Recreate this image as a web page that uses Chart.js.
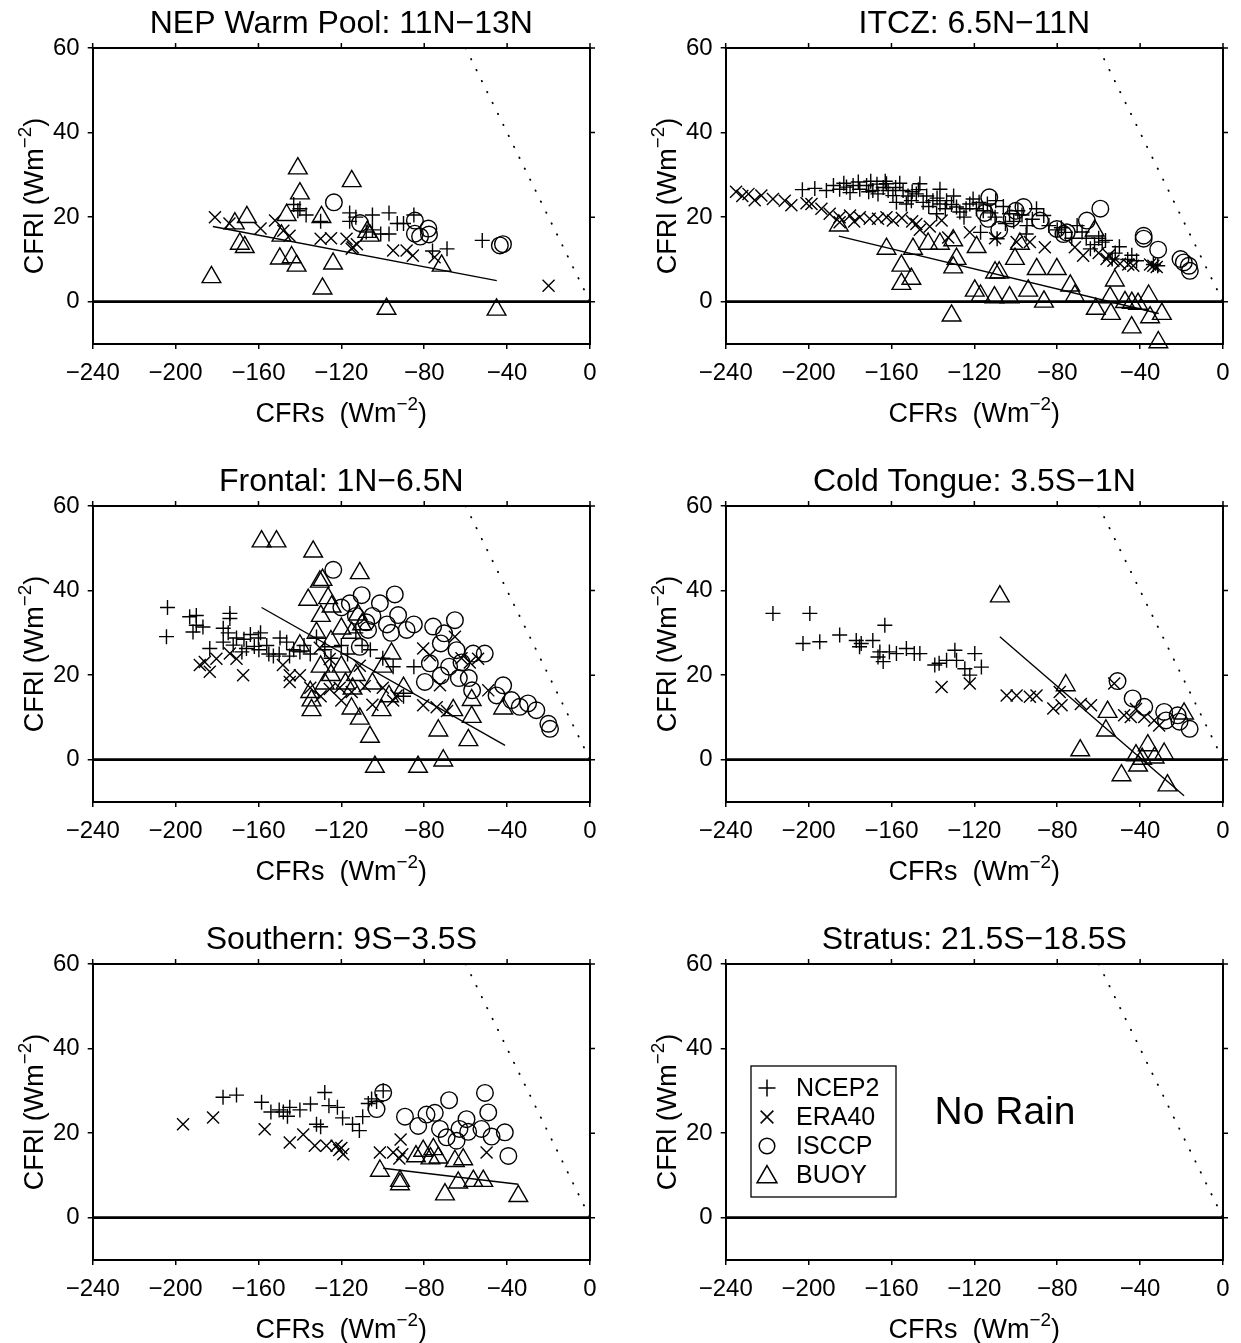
<!DOCTYPE html>
<html>
<head>
<meta charset="utf-8">
<script src="https://cdn.jsdelivr.net/npm/chart.js@4.4.1/dist/chart.umd.min.js"></script>
<style>
  html, body { margin: 0; padding: 0; background: #fff; overflow: hidden; }
  #wrap { position: relative; width: 1241px; height: 1343px; }
  canvas { position: absolute; }
</style>
</head>
<body>
<div id="wrap">
  <canvas id="p1" width="608" height="458" style="left:0;top:0"></canvas>
  <canvas id="p2" width="608" height="458" style="left:633px;top:0"></canvas>
  <canvas id="p3" width="608" height="458" style="left:0;top:458px"></canvas>
  <canvas id="p4" width="608" height="458" style="left:633px;top:458px"></canvas>
  <canvas id="p5" width="608" height="458" style="left:0;top:916px"></canvas>
  <canvas id="p6" width="608" height="458" style="left:633px;top:916px"></canvas>
</div>
<script>
// axis ticks and names
var xTicks = [-240, -200, -160, -120, -80, -40, 0];
var yTicks = [0, 20, 40, 60];
var seriesNames = ['NCEP2', 'ERA40', 'ISCCP', 'BUOY'];
var panelTitles = ['NEP Warm Pool: 11N\u221213N', 'ITCZ: 6.5N\u221211N', 'Frontal: 1N\u22126.5N',
                   'Cold Tongue: 3.5S\u22121N', 'Southern: 9S\u22123.5S', 'Stratus: 21.5S\u221218.5S'];

// reference lines
var netZeroLine = [[-60, 60], [0, 0]];
var zeroLine = [[-240, 0], [0, 0]];

// NEP warm pool
var nepNcep2 = [[-143,23],[-140,22],[-137,20.5],[-141,21.5],[-130,19],[-116,21],[-116,19],[-113,20],[-105,20.5],[-97,21],
  [-90,18.5],[-85,20.5],[-105,17],[-101,16],[-97,16],[-93,18.5],[-76,12],[-69,12.5],[-52,14.5],[-108,16.5]];
var nepEra40 = [[-181,20],[-174,18.5],[-159,17.3],[-152,19.2],[-148,16.8],[-145,15.6],[-130,14.9],[-125,15],[-117.5,14.9],
  [-114.5,12.9],[-112.5,13.6],[-115,12.5],[-95,12.1],[-88.5,12.1],[-85.5,10.9],[-75,10.5],[-20,3.8]];
var nepIsccp = [[-123.6,23.5],[-111,18.6],[-84.5,19.2],[-78,17.3],[-84.5,16.1],[-82,15.4],[-77.7,15.9],[-43.5,13.3],[-42,13.6]];
var nepBuoy = [[-141,31.5],[-115,28.5],[-140,25.6],[-165.6,20],[-171.4,18.5],[-129.6,20],[-146.4,20.5],[-148.9,15.6],
  [-169,13.7],[-166.6,12.9],[-149.7,10.2],[-144,10.5],[-141.6,8.5],[-124,9],[-182.7,5.8],[-129.1,3.1],[-106.2,15.6],
  [-107.5,16.5],[-71.6,8.5],[-98.2,-1.7],[-45.1,-1.9]];
var nepFit = [[-182,17.8],[-45,5]];

// ITCZ
var itczNcep2 = [[-203,26.5],[-197,26.8],[-191.4,26.3],[-185,26.6],[-181.7,27.1],[-180,25.8],[-178.5,27.5],[-175.3,26.6],
  [-172,27.5],[-169,26.3],[-166.5,25.5],[-162.4,27.9],[-161.6,26.3],[-159.3,25.1],[-157.6,23.5],[-154.4,26.3],[-152.8,23.1],
  [-150.4,23.9],[-146.3,27.9],[-148,25.5],[-144.7,23.5],[-140,23.9],[-136.6,26.6],[-136.6,23.1],[-133.4,23.9],[-138.2,20.8],
  [-128.6,22.4],[-127,21.2],[-122.2,23.1],[-120.6,24.3],[-115.7,21.5],[-117.7,23.5],[-113.7,23.1],[-109.7,23.9],[-103,20.8],
  [-99,21.5],[-117,16.4],[-109,14.9],[-94.6,18],[-86.5,20.4],[-76,16.4],[-70.4,18],[-64,12.5],[-58.3,14.1],[-56.7,14.5],
  [-53.5,10.1],[-52,11.5],[-41.7,9.7],[-33.6,8.8],[-31.5,8.5],[-170,28.5],[-164,27],[-156,28],[-150,26],[-142,22.5],
  [-130,25],[-125,20],[-110,20],[-105,18.5],[-95,16],[-90,22],[-80,17],[-73,15],[-66,15],[-62,13.5],[-46,10],
  [-188,27.5],[-183,28],[-176,28.3],[-171,26],[-167,27.8],[-163,28.5],[-158,27],[-152,25],[-147,26.5],[-143,25],
  [-138,24.5],[-134,22],[-131,23],[-124,22],[-119,22],[-112,21],[-106,22.5],[-101,19],[-97,20.5],[-92,19.5],[-84,18],
  [-78,17.5],[-68,16.5],[-60,15],[-50,13],[-44,11]];
var itczEra40 = [[-235,26],[-232,25],[-229,25.5],[-226,24],[-222.8,25.1],[-217.2,24.3],[-211.5,23.9],[-208.3,22.8],[-201,23.3],
  [-198.6,23.1],[-193.8,22],[-189.8,20.8],[-185,20],[-185,18.8],[-180,20.4],[-175.3,20],[-170.5,19.6],[-166.5,19.6],
  [-162.4,20],[-159.3,19.2],[-148,18.4],[-146.3,17],[-141.5,17.8],[-135.8,19.2],[-132.6,15.2],[-122.2,16.4],[-99.6,14.1],
  [-93.2,14.1],[-86,12.9],[-71.5,12.9],[-67.5,10.9],[-56.2,10.1],[-52.9,9.7],[-49.7,9],[-45.7,8.8],[-43.3,8.5],[-35.2,8.8],
  [-33.6,8.5],[-32,8.2],[-155,19.8],[-150,19],[-178,19],[-110,15],[-60,11.5],[-55,11]];
var itczIsccp = [[-112.8,24.7],[-113.3,19.6],[-96.3,22.4],[-88.3,19.2],[-80.2,17.2],[-75.4,16.4],[-65.7,19.2],[-59.2,22],
  [-38.3,15.6],[-38.3,14.9],[-31.3,12.3],[-20.5,10.1],[-18.9,9.3],[-16.5,8.5],[-16,7.3],[-102,19.7],[-100,21.5],[-115,21],
  [-108,17],[-77,16]];
var itczBuoy = [[-185.4,18],[-162.4,12.5],[-155.2,8.5],[-150.4,5.4],[-155.2,4.2],[-149.6,12.5],[-142.3,13.7],[-136.6,13.7],
  [-130.2,14.5],[-128.6,10.1],[-130.2,8.1],[-118.9,12.9],[-119.8,2.6],[-131,-3.3],[-100.4,10.1],[-98,13.7],[-89.9,7.7],
  [-80.2,7.7],[-73.7,3.8],[-71.5,1.4],[-110.3,1],[-103,1],[-94,2.6],[-86.4,0],[-61.9,16.8],[-52.2,5],[-54.5,1],[-61.4,-1.7],
  [-54.1,-2.9],[-47.3,-0.1],[-44,-0.3],[-41,-0.5],[-35.9,1.4],[-35.2,-3.7],[-29.5,-2.9],[-44.1,-6.1],[-31.2,-9.6],
  [-110,6.9],[-108,6.9],[-117,1.4]];
var itczFit = [[-185.4,15.5],[-31,-2.8]];

// Frontal
var frontNcep2 = [[-203.9,36],[-204.4,29.1],[-193.2,33.8],[-190,34.1],[-190,31.8],[-186.8,31.4],[-191.6,30.2],[-173.8,34.6],
  [-173.8,33.4],[-177,31.1],[-174.6,30],[-170.6,28.8],[-167,28.5],[-163.9,29.6],[-160,28.8],[-159,30],[-183.5,26.3],
  [-177,27.8],[-172.2,27.1],[-165.8,26.3],[-162,26.8],[-159.8,26],[-156,27],[-152.8,24.5],[-149.6,28.8],[-146.4,27.8],
  [-143,26],[-140,25.5],[-138,27],[-135,25],[-132,29],[-128,26],[-125,24],[-120,27],[-117,25],[-113,30],[-110,27],
  [-106,26],[-100,24],[-95,22],[-90,15],[-85,22],[-168,25.5],[-155,25],[-150,25],[-145,24.5]];
var frontEra40 = [[-188.3,22.4],[-185.9,23.1],[-183.5,20.8],[-180.3,23.9],[-173.8,25.1],[-170.6,23.9],[-167.4,20],
  [-144.9,18.4],[-144.9,20],[-148.2,22.4],[-140,20],[-135,17],[-130.4,26.5],[-125.6,23.8],[-125.6,16.7],[-120.8,17],
  [-111.1,22.2],[-108.7,17.4],[-93.4,15.1],[-130,15],[-120,14],[-115,16],[-105,13],[-100,17],[-95,14],[-80.5,26.3],
  [-77.3,24.7],[-65.2,29.1],[-62,24],[-58,23],[-54,23.9],[-72.4,17.6],[-49.1,16.4],[-80.5,12.9],[-74,12.4],[-69,11.5]];
var frontIsccp = [[-123.9,44.9],[-94.2,39.1],[-110.2,38.9],[-115.9,37],[-101.4,37],[-92.6,34.2],[-88.5,30.7],[-75.7,31.5],
  [-65.2,33],[-70.4,29.9],[-72,27.5],[-64.4,25.9],[-56.4,25.1],[-50.8,25.1],[-77.3,22.8],[-79.7,18.4],[-72,19.9],
  [-63.3,19.3],[-58.5,19.3],[-56.9,16.4],[-41.9,17.6],[-45.1,15.2],[-37.9,14.1],[-33.9,12.5],[-29.9,13.3],[-25.9,11.7],
  [-20.1,8.5],[-19.3,7.3],[-107.1,30.7],[-111.1,26.7],[-120,36],[-113,34],[-105,34],[-98,32],[-96,30],[-108,32.5],
  [-85,32],[-68,22],[-62,23]];
var frontBuoy = [[-158.5,51.6],[-151.3,51.6],[-133.6,49.2],[-130.4,42.1],[-136,37.8],[-129.1,42.5],[-111.1,44.1],
  [-126.4,38.2],[-124.7,36.2],[-129.9,34],[-112,34.3],[-135,16],[-134.4,14],[-134.4,11.7],[-95.8,25.1],[-115.1,12.1],
  [-100.6,11.7],[-111.1,9.7],[-106.2,5.4],[-73.2,6.9],[-58.7,4.6],[-57.1,10.1],[-66,11.7],[-57.1,14.1],[-41.9,12.1],
  [-103.8,-1.7],[-83,-1.7],[-70.8,-0.2],[-114.6,16.8],[-140,27],[-132,30],[-125,28],[-120,31],[-115,30],[-110,32],
  [-130,22],[-125,20],[-120,22],[-113,20],[-105,18],[-100,22],[-97,15],[-90,17],[-128,18],[-118,18]];
var frontFit = [[-158.5,36],[-41,3.4]];

// Cold tongue
var coldNcep2 = [[-217.2,34.6],[-199.4,34.6],[-202.7,27.5],[-194.6,27.9],[-185,29.5],[-177,28.2],[-174.6,27.5],
  [-175.4,26.7],[-169,28.2],[-165.6,25.5],[-163.2,31.8],[-164,23.2],[-166.5,24.3],[-161,25.5],[-157.6,25.1],[-152.8,26.3],
  [-149,25.1],[-146.3,25.1],[-139.1,22.4],[-137,22.8],[-133.4,23.5],[-129.4,25.9],[-128.6,23.5],[-124.6,21.5],[-122.2,20],
  [-119.8,25.1],[-116.6,21.9]];
var coldEra40 = [[-135.8,17.2],[-122.2,18],[-104.4,15.2],[-99.6,15.2],[-93.2,14.9],[-90,15.2],[-81.9,12.1],[-77.9,12.9],
  [-68.6,13.2],[-63.7,12.9],[-52.5,18],[-47.7,10.5],[-44.5,10.1],[-38,10.1],[-33.2,9.3],[-30.8,8.1],[-78.8,16],[-42,12]];
var coldIsccp = [[-50.9,18.6],[-43.6,14.5],[-38,12.5],[-28.4,11.3],[-27.5,9.3],[-21.9,10.5],[-21,9],[-16.1,7.3]];
var coldBuoy = [[-107.7,38.6],[-75.9,17.6],[-55.7,11.3],[-56.5,6.9],[-68.9,2.2],[-36.3,3.4],[-28.4,1.4],[-42,1],[-39,0.2],
  [-33,0.5],[-49,-3.7],[-41,-1.4],[-26.8,-6.1],[-18.8,10.9]];
var coldFit = [[-107.7,29.1],[-18.8,-8.5]];

// Southern
var southNcep2 = [[-177.1,28.5],[-170.6,29],[-158.5,27.3],[-154,25],[-150,25.5],[-148,25],[-146,24],[-144.9,26.1],[-140,25.5],
  [-134.9,26.9],[-128,29.6],[-126,26.5],[-121.9,26.1],[-132,22.1],[-130,21.5],[-119.4,23.6],[-114.6,22.1],[-111.3,20.6],
  [-109.7,23.9],[-105.4,28.1],[-107,27],[-99.8,30],[-103,27.5]];
var southEra40 = [[-196.4,22.1],[-181.9,23.7],[-157,20.9],[-144.9,17.8],[-138.4,19.7],[-132.8,17],[-127.2,17],[-122.3,17],
  [-121,16],[-119.1,15],[-101.4,15.4],[-95,15.4],[-91.4,18.5],[-90.6,15],[-92,14],[-49.9,15.4],[-120,16.5]];
var southIsccp = [[-99.8,29.6],[-103,25.7],[-89.3,23.9],[-78.9,24.4],[-74.9,24.8],[-68,27.8],[-82.9,21.7],[-72.4,21],
  [-69.2,19],[-64.4,18.2],[-59.6,23.3],[-63,21],[-58.8,20.3],[-52.4,21],[-50.7,29.5],[-49.1,24.9],[-47.5,19.2],[-41.1,20.2],
  [-39.4,14.6]];
var southBuoy = [[-101.4,11.1],[-91.7,8.7],[-91.7,7.9],[-80.5,15.8],[-75.6,16.2],[-73.2,14.2],[-65.2,13.4],[-61.2,13.8],
  [-70,5.5],[-63.6,8.3],[-56.3,8.7],[-51.5,8.7],[-34.6,5.1],[-84,14.5],[-77,14]];
var southFit = [[-99.8,11.7],[-34.6,7.9]];

var FONT = '"Liberation Sans", Arial, Helvetica, sans-serif';
Chart.defaults.font.family = FONT;
Chart.defaults.color = '#000';

var markerStyle = [
  { pointStyle: 'cross', radius: 7.5, legendRadius: 8.5 },
  { pointStyle: 'crossRot', radius: 8.5, legendRadius: 9 },
  { pointStyle: 'circle', radius: 8.3, legendRadius: 7.8 },
  { pointStyle: 'triangle', radius: 10.8, legendRadius: 11.5 }
];

function pts(arr) {
  return arr.map(function (p) { return { x: p[0], y: p[1] }; });
}

function minus(v) {
  return v < 0 ? '\u2212' + Math.abs(v) : String(v);
}

// text like "CFRs  (Wm" + superscript "-2" + ")"
function unitText(ctx, head, cx, baseY, size) {
  var sup = '\u22122', tail = ')', supSize = size * 0.7;
  ctx.font = size + 'px ' + FONT;
  var w1 = ctx.measureText(head).width, w3 = ctx.measureText(tail).width;
  ctx.font = supSize + 'px ' + FONT;
  var w2 = ctx.measureText(sup).width;
  var x = cx - (w1 + w2 + w3) / 2;
  ctx.textAlign = 'left';
  ctx.textBaseline = 'alphabetic';
  ctx.font = size + 'px ' + FONT;
  ctx.fillText(head, x, baseY);
  ctx.font = supSize + 'px ' + FONT;
  ctx.fillText(sup, x + w1, baseY - size * 0.45);
  ctx.font = size + 'px ' + FONT;
  ctx.fillText(tail, x + w1 + w2, baseY);
}

var decor = {
  id: 'panelDecor',
  afterDraw: function (chart, args, opts) {
    var ctx = chart.ctx, a = chart.chartArea;
    var sx = chart.scales.x, sy = chart.scales.y;
    ctx.save();
    ctx.strokeStyle = '#000';
    ctx.fillStyle = '#000';
    // top and right frame with outward ticks
    ctx.lineWidth = 2;
    ctx.beginPath();
    ctx.moveTo(a.left - 1, a.top);
    ctx.lineTo(a.right + 1, a.top);
    ctx.moveTo(a.right, a.top);
    ctx.lineTo(a.right, a.bottom + 1);
    ctx.stroke();
    ctx.lineWidth = 1.5;
    ctx.beginPath();
    xTicks.forEach(function (v) {
      var px = sx.getPixelForValue(v);
      ctx.moveTo(px, a.top);
      ctx.lineTo(px, a.top - 5);
    });
    yTicks.forEach(function (v) {
      var py = sy.getPixelForValue(v);
      ctx.moveTo(a.right, py);
      ctx.lineTo(a.right + 5, py);
    });
    ctx.stroke();

    // panel title
    ctx.font = '32px ' + FONT;
    ctx.textAlign = 'center';
    ctx.textBaseline = 'alphabetic';
    ctx.fillText(opts.title, (a.left + a.right) / 2, 33);

    // axis titles
    unitText(ctx, 'CFRs  (Wm', (a.left + a.right) / 2, a.bottom + 78, 27);
    ctx.save();
    ctx.translate(43, (a.top + a.bottom) / 2);
    ctx.rotate(-Math.PI / 2);
    unitText(ctx, 'CFRl (Wm', 0, 0, 27);
    ctx.restore();

    if (opts.legend) {
      var bx = 118, by = 150, bw = 145, bh = 131;
      ctx.lineWidth = 1.3;
      ctx.strokeRect(bx, by, bw, bh);
      seriesNames.forEach(function (name, i) {
        var yy = by + 22 + i * 29;
        ctx.lineWidth = 1.5;
        ctx.fillStyle = 'rgba(0,0,0,0)';
        Chart.helpers.drawPoint(ctx, {
          pointStyle: markerStyle[i].pointStyle,
          radius: markerStyle[i].legendRadius,
          rotation: 0,
          borderWidth: 1.5
        }, bx + 16, yy + (i === 3 ? 2 : 0));
        ctx.fillStyle = '#000';
        ctx.font = '25px ' + FONT;
        ctx.textAlign = 'left';
        ctx.textBaseline = 'middle';
        ctx.fillText(name, bx + 45, yy + 1);
      });
    }
    if (opts.noRain) {
      ctx.font = '39px ' + FONT;
      ctx.textAlign = 'center';
      ctx.textBaseline = 'middle';
      ctx.fillText('No Rain', 372, 197);
    }
    ctx.restore();
  }
};

function makePanel(id, title, series, fit, extra) {
  var datasets = [];
  datasets.push({ data: pts(zeroLine), showLine: true, pointRadius: 0, borderColor: '#000', borderWidth: 2.7 });
  datasets.push({ data: pts(netZeroLine), showLine: true, pointRadius: 0, borderColor: '#000', borderWidth: 1.8,
                  borderDash: [0.5, 11.7], borderCapStyle: 'round' });
  if (fit) {
    datasets.push({ data: pts(fit), showLine: true, pointRadius: 0, borderColor: '#000', borderWidth: 1.4 });
  }
  series.forEach(function (s, i) {
    datasets.push({
      label: seriesNames[i],
      data: pts(s),
      showLine: false,
      pointStyle: markerStyle[i].pointStyle,
      pointRadius: markerStyle[i].radius,
      pointBorderColor: '#000',
      pointBackgroundColor: 'rgba(0,0,0,0)',
      pointBorderWidth: 1.4,
      clip: false
    });
  });

  new Chart(document.getElementById(id), {
    type: 'scatter',
    data: { datasets: datasets },
    options: {
      responsive: false,
      animation: false,
      devicePixelRatio: 1,
      events: [],
      layout: { padding: { top: 48, right: 18, left: 0, bottom: 0 } },
      plugins: {
        legend: { display: false },
        tooltip: { enabled: false },
        panelDecor: { title: title, legend: !!(extra && extra.legend), noRain: !!(extra && extra.noRain) }
      },
      scales: {
        x: {
          type: 'linear', min: -240, max: 0,
          afterBuildTicks: function (s) { s.ticks = xTicks.map(function (v) { return { value: v }; }); },
          afterFit: function (s) { s.height = 114; },
          grid: { drawOnChartArea: false, color: '#000', lineWidth: 1.5, tickLength: 5 },
          border: { color: '#000', width: 2 },
          ticks: { color: '#000', font: { size: 24 }, padding: 9.5, maxRotation: 0, autoSkip: false,
                   callback: function (v) { return minus(v); } }
        },
        y: {
          type: 'linear', min: -10, max: 60,
          afterBuildTicks: function (s) { s.ticks = yTicks.map(function (v) { return { value: v }; }); },
          afterFit: function (s) { s.width = 92.7; },
          grid: { drawOnChartArea: false, color: '#000', lineWidth: 1.5, tickLength: 5 },
          border: { color: '#000', width: 2 },
          ticks: { color: '#000', font: { size: 24 }, padding: 8, autoSkip: false,
                   callback: function (v) { return minus(v); } }
        }
      }
    },
    plugins: [decor]
  });
}

makePanel('p1', panelTitles[0], [nepNcep2, nepEra40, nepIsccp, nepBuoy], nepFit);
makePanel('p2', panelTitles[1], [itczNcep2, itczEra40, itczIsccp, itczBuoy], itczFit);
makePanel('p3', panelTitles[2], [frontNcep2, frontEra40, frontIsccp, frontBuoy], frontFit);
makePanel('p4', panelTitles[3], [coldNcep2, coldEra40, coldIsccp, coldBuoy], coldFit);
makePanel('p5', panelTitles[4], [southNcep2, southEra40, southIsccp, southBuoy], southFit);
makePanel('p6', panelTitles[5], [[], [], [], []], null, { legend: true, noRain: true });
</script>
</body>
</html>
